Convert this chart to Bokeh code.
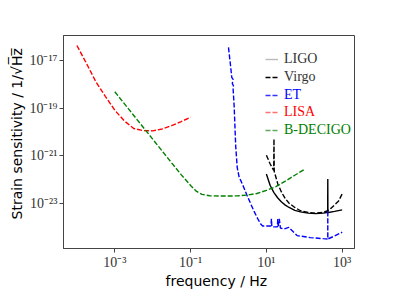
import numpy as np
from bokeh.plotting import figure
from bokeh.models import (Range1d, FixedTicker, CustomJSTickFormatter, Legend, LegendItem,
                          ColumnDataSource, Title)
from bokeh.embed import file_html
from bokeh.resources import INLINE

# ---------------- data ----------------
lisa_f = [1.0e-4, 1.78e-4, 3.16e-4, 5.62e-4, 1.0e-3, 1.78e-3, 3.16e-3, 5.62e-3,
          1.0e-2, 1.78e-2, 3.16e-2, 5.62e-2, 1.0e-1]
lisa_h = [4.47e-17, 7.9e-18, 1.32e-18, 3.2e-19, 8.3e-20, 2.95e-20, 1.41e-20, 1.15e-20,
          1.12e-20, 1.35e-20, 1.86e-20, 2.75e-20, 4.2e-20]

decigo_f = [1.0e-3, 3.16e-3, 1.0e-2, 3.16e-2, 5.62e-2, 1.0e-1, 1.41e-1, 2.0e-1, 3.16e-1,
            5.62e-1, 1.0, 1.78, 3.16, 5.62, 10.0, 17.8, 31.6, 56.2, 100.0]
decigo_h = [5.0e-19, 5.0e-20, 5.0e-21, 5.0e-22, 1.6e-22, 5.6e-23, 3.2e-23, 2.35e-23, 2.05e-23,
            2.0e-23, 2.0e-23, 2.05e-23, 2.19e-23, 2.57e-23, 3.47e-23, 5.0e-23, 8.5e-23,
            1.51e-22, 2.63e-22]

et_f = [1.0, 1.12, 1.22, 1.32, 1.26, 1.35, 1.32, 1.41, 1.55, 1.70, 1.91, 2.19, 2.63, 3.09,
        3.80, 4.68, 5.89, 7.08, 7.94, 10.0, 13.2, 13.6, 13.9, 15.8, 19.5, 20.0, 20.4, 21.9,
        23.4, 28.8, 38.9, 64.6, 144.0, 316.0, 416.0, 417.0, 418.0, 600.0, 1000.0]
et_h = [3.7e-17, 7.4e-18, 2.0e-18, 1.66e-18, 1.12e-18, 8.9e-19, 7.1e-19, 1.26e-19, 2.5e-21,
        3.16e-22, 1.26e-22, 7.9e-23, 4.0e-23, 2.1e-23, 1.0e-23, 4.7e-24, 2.24e-24, 1.32e-24,
        1.1e-24, 1.1e-24, 1.1e-24, 2.2e-24, 1.05e-24, 1.0e-24, 1.0e-24, 2.2e-24, 1.0e-24,
        2.2e-24, 0.9e-24, 0.81e-24, 0.95e-24, 0.43e-24, 0.355e-24, 0.32e-24, 0.31e-24, 5.0e-24,
        0.31e-24, 0.40e-24, 0.6e-24]

ligo_f = [10.0, 12.6, 15.8, 20.0, 25.1, 31.6, 39.8, 56.2, 79.4, 126.0, 200.0, 316.0, 398.0,
          414.0, 417.0, 420.0, 436.0, 631.0, 1000.0]
ligo_h = [1.7e-22, 5.6e-23, 2.8e-23, 1.66e-23, 1.12e-23, 8.3e-24, 6.6e-24, 5.0e-24, 4.3e-24,
          3.8e-24, 3.63e-24, 3.8e-24, 4.07e-24, 4.07e-24, 1.05e-22, 4.07e-24, 4.07e-24,
          4.5e-24, 5.25e-24]

virgo_f = [10.0, 12.6, 15.6, 15.85, 16.1, 20.0, 25.1, 31.6, 39.8, 56.2, 79.4, 126.0, 200.0,
           316.0, 398.0, 501.0, 631.0, 794.0, 1000.0]
virgo_h = [1.05e-21, 4.5e-22, 2.4e-22, 5.1e-21, 2.2e-22, 6.5e-23, 2.9e-23, 1.55e-23, 1.0e-23,
           6.6e-24, 4.8e-24, 4.1e-24, 3.8e-24, 4.1e-24, 4.7e-24, 6.0e-24, 8.5e-24, 1.2e-23,
           2.45e-23]

series_names = ["LIGO", "Virgo", "ET", "LISA", "B-DECIGO"]
series_colors = ["black", "black", "blue", "red", "green"]
legend_handle_colors = ["#bbbbbb", "black", "#3333ff", "#ff7070", "#60a860"]
legend_text_colors = ["#333333", "#333333", "blue", "red", "green"]

x_ticks = [1e-3, 1e-1, 1e1, 1e3]
y_ticks = [1e-23, 1e-21, 1e-19, 1e-17]
x_title = "frequency / Hz"
y_title = "Strain sensitivity / 1/\u221aH\u0305z\u0305"

# ---------------- figure ----------------
W, H = 390, 292
p = figure(width=W, height=H, x_axis_type="log", y_axis_type="log",
           x_range=Range1d(10 ** -4.354, 10 ** 3.325),
           y_range=Range1d(10 ** -24.91, 10 ** -15.93),
           output_backend="svg", toolbar_location=None,
           min_border_left=63, min_border_right=W - 354, min_border_top=35,
           min_border_bottom=H - 248)
p.background_fill_color = "white"
p.border_fill_color = "white"
p.outline_line_color = "#444444"
p.outline_line_width = 1
p.xgrid.visible = False
p.ygrid.visible = False

fmt_code = """
const e = Math.round(Math.log10(tick));
const sup = {'-':'\u207b','0':'\u2070','1':'\u00b9','2':'\u00b2','3':'\u00b3','4':'\u2074',
             '5':'\u2075','6':'\u2076','7':'\u2077','8':'\u2078','9':'\u2079'};
return '10' + String(e).split('').map(c => sup[c]).join('');
"""
for ax, ticks in ((p.xaxis, x_ticks), (p.yaxis, y_ticks)):
    ax.ticker = FixedTicker(ticks=ticks, minor_ticks=[])
    ax.formatter = CustomJSTickFormatter(code=fmt_code)
    ax.axis_line_color = "#444444"
    ax.major_tick_line_color = "#444444"
    ax.major_tick_out = 4
    ax.major_tick_in = 0
    ax.minor_tick_line_color = None
    ax.major_label_text_font = "Liberation Serif"
    ax.major_label_text_font_size = "14px"
    ax.major_label_text_color = "#333333"
    ax.major_label_standoff = 2

# axis titles as side-panel titles, so they can sit off-centre like the reference
p.add_layout(Title(text=x_title, align="left", offset=102, standoff=0,
                   vertical_align="top",
                   text_font="DejaVu Sans", text_font_size="14px",
                   text_font_style="normal", text_color="black"), "below")
p.add_layout(Title(text=y_title, align="left", offset=29, standoff=0,
                   vertical_align="top",
                   text_font="DejaVu Sans", text_font_size="14px",
                   text_font_style="normal", text_color="black"), "left")

lw = 1.4
dash = "5 2"
all_f = [ligo_f, virgo_f, et_f, lisa_f, decigo_f]
all_h = [ligo_h, virgo_h, et_h, lisa_h, decigo_h]
dashes = ["solid", dash, dash, dash, dash]
for f, h, c, d in zip(all_f, all_h, series_colors, dashes):
    p.line(x=f, y=h, line_color=c, line_width=lw, line_dash=d)

# ---------------- legends (one per row, to colour each label) ----------------
row_top = 24.0
row_step = 17.8
frame_h = 248 - 35
for i, name in enumerate(series_names):
    # handle-only renderer, its points lie far outside the visible ranges
    src = ColumnDataSource(data=dict(x=[1e-12, 2e-12], y=[1e-40, 1e-40]))
    r = p.line(x="x", y="y", source=src, line_color=legend_handle_colors[i], line_width=lw,
               line_dash=dashes[i])
    center = row_top + row_step * i
    leg = Legend(items=[LegendItem(label=name, renderers=[r])],
                 location=(202, frame_h - center - 9),
                 padding=0, margin=0, spacing=0,
                 glyph_width=13, glyph_height=18, label_height=18, label_standoff=6,
                 label_text_font="Liberation Serif", label_text_font_size="14px",
                 label_text_color=legend_text_colors[i],
                 background_fill_alpha=0, border_line_alpha=0)
    p.add_layout(leg, "center")

open("out.html", "w").write(file_html(p, INLINE))
